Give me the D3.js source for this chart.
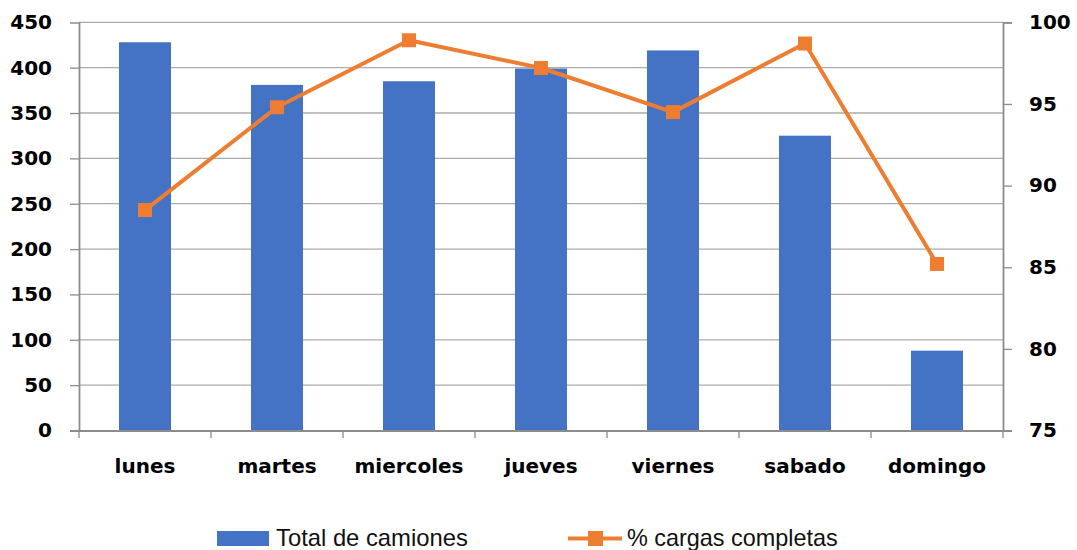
<!DOCTYPE html>
<html>
<head>
<meta charset="utf-8">
<script src="https://cdn.jsdelivr.net/npm/d3@7"></script>
<style>
  body { margin: 0; background: #fff; }
  svg { display: block; }
</style>
</head>
<body>
<svg id="chart" width="1077" height="550"></svg>
<script>
const days = ['lunes', 'martes', 'miercoles', 'jueves', 'viernes', 'sabado', 'domingo'];
const camiones = [428, 381, 385, 399, 419, 325, 88];
const cargas = [88.5, 94.8, 98.9, 97.2, 94.5, 98.7, 85.2];
const leftTicks = [0, 50, 100, 150, 200, 250, 300, 350, 400, 450];
const rightTicks = [75, 80, 85, 90, 95, 100];

const svg = d3.select('#chart');
const plotLeft = 79, plotRight = 1003, plotTop = 22.3, plotBottom = 430.5;

const x = d3.scaleBand().domain(days).range([plotLeft, plotRight])
  .paddingInner(0.606).paddingOuter(0.303);
const xCat = d3.scaleBand().domain(days).range([plotLeft, plotRight]);
const yL = d3.scaleLinear().domain([0, 450]).range([plotBottom, plotTop]);
const yR = d3.scaleLinear().domain([75, 100]).range([plotBottom, plotTop]);

const gridColor = '#ababab';
const axisColor = '#8c8c8c';
const labelFont = 'DejaVu Sans, sans-serif';

// gridlines
svg.append('g')
  .selectAll('line')
  .data(leftTicks.slice(1))
  .enter()
  .append('line')
  .attr('x1', plotLeft)
  .attr('x2', plotRight)
  .attr('y1', d => yL(d))
  .attr('y2', d => yL(d))
  .attr('stroke', gridColor)
  .attr('stroke-width', 1.3);

// bars
svg.append('g')
  .selectAll('rect')
  .data(days)
  .enter()
  .append('rect')
  .attr('x', d => x(d))
  .attr('width', x.bandwidth())
  .attr('y', (d, i) => yL(camiones[i]))
  .attr('height', (d, i) => plotBottom - yL(camiones[i]))
  .attr('fill', '#4472c4');

// left axis
const axL = svg.append('g')
  .attr('transform', `translate(${plotLeft},0)`)
  .call(d3.axisLeft(yL).tickValues(leftTicks).tickSize(9).tickPadding(18));
// right axis
const axR = svg.append('g')
  .attr('transform', `translate(${plotRight},0)`)
  .call(d3.axisRight(yR).tickValues(rightTicks).tickSize(9).tickPadding(17));
// bottom axis
const axB = svg.append('g')
  .attr('transform', `translate(0,${plotBottom})`)
  .call(d3.axisBottom(xCat).tickSize(0).tickPadding(28));

[axL, axR].forEach(g => {
  g.select('.domain').attr('stroke', axisColor).attr('stroke-width', 1.8);
  g.selectAll('.tick line').attr('stroke', axisColor).attr('stroke-width', 1.3);
  g.selectAll('text')
    .attr('font-family', labelFont)
    .attr('font-weight', 'bold')
    .attr('font-size', 20)
    .attr('fill', '#000');
});
axL.selectAll('.tick').filter(d => d === 450).select('line').attr('stroke', gridColor);
axB.select('.domain').attr('stroke', axisColor).attr('stroke-width', 1.8);
axB.selectAll('text')
  .attr('font-family', labelFont)
  .attr('font-weight', 'bold')
  .attr('font-size', 20)
  .attr('fill', '#000');

// category tick marks at band boundaries
svg.append('g')
  .selectAll('line')
  .data(days.concat(['end']))
  .enter()
  .append('line')
  .attr('x1', (d, i) => i < days.length ? xCat(d) : plotRight)
  .attr('x2', (d, i) => i < days.length ? xCat(d) : plotRight)
  .attr('y1', plotBottom)
  .attr('y2', plotBottom + 7.5)
  .attr('stroke', axisColor)
  .attr('stroke-width', 1.3);

// line series
const line = d3.line()
  .x((d, i) => xCat(days[i]) + xCat.bandwidth() / 2)
  .y(d => yR(d));

svg.append('path')
  .datum(cargas)
  .attr('d', line)
  .attr('fill', 'none')
  .attr('stroke', '#ed7d31')
  .attr('stroke-width', 4)
  .attr('stroke-linejoin', 'round');

svg.append('g')
  .selectAll('rect')
  .data(cargas)
  .enter()
  .append('rect')
  .attr('x', (d, i) => xCat(days[i]) + xCat.bandwidth() / 2 - 7)
  .attr('y', d => yR(d) - 7)
  .attr('width', 14)
  .attr('height', 14)
  .attr('fill', '#ed7d31');

// legend
const legend = svg.append('g').attr('font-family', 'Liberation Sans, Arial, sans-serif').attr('fill', '#111');
legend.append('rect').attr('x', 217).attr('y', 531).attr('width', 52).attr('height', 15).attr('fill', '#4472c4');
legend.append('text').attr('x', 276).attr('y', 546).attr('font-size', 23.8).text('Total de camiones');
legend.append('line').attr('x1', 568).attr('x2', 622).attr('y1', 538.5).attr('y2', 538.5)
  .attr('stroke', '#ed7d31').attr('stroke-width', 4);
legend.append('rect').attr('x', 588).attr('y', 531).attr('width', 15).attr('height', 15).attr('fill', '#ed7d31');
legend.append('text').attr('x', 627).attr('y', 546).attr('font-size', 23.4).text('% cargas completas');
</script>
</body>
</html>
